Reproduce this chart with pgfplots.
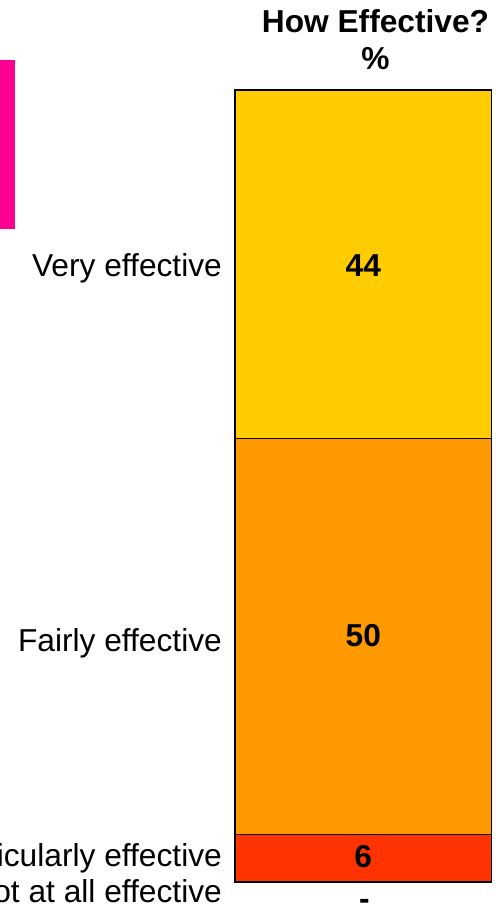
\documentclass[border=0pt]{standalone}
\usepackage{pgfplots}
\pgfplotsset{compat=1.18}
\usepackage{fontspec}
\setmainfont{Liberation Sans}
\definecolor{cVery}{HTML}{FFCC00}
\definecolor{cFair}{HTML}{FF9900}
\definecolor{cNotPart}{HTML}{FF3300}
\definecolor{cMag}{HTML}{FF0090}
\tikzset{catlab/.style={font=\fontsize{31.7}{38}\selectfont, inner sep=0pt, anchor=base east},
         vallab/.style={font=\fontsize{31.7}{38}\selectfont\bfseries, inner sep=0pt, anchor=base}}
\begin{document}
\begin{tikzpicture}
\begin{axis}[
  scale only axis, width=495pt, height=912pt,
  xmin=0, xmax=495, ymin=-3.788, ymax=111.364,
  hide axis, clip=false,
  ybar stacked, bar width=256.5,
]
\addplot[fill=cNotPart, draw=black, line width=1.6pt] coordinates {(363.25,6)};
\addplot[fill=cFair, draw=black, line width=1.6pt] coordinates {(363.25,50)};
\addplot[fill=cVery, draw=black, line width=1.6pt] coordinates {(363.25,44)};
\coordinate (bl) at (rel axis cs:0,0);
\coordinate (tr) at (rel axis cs:1,1);
\fill[cMag] (axis cs:0,82.45) rectangle (axis cs:15,103.79);
\node[catlab] at (axis cs:222,76.39) {Very effective};
\node[catlab] at (axis cs:222,29.1) {Fairly effective};
\node[catlab] at (axis cs:222,2.0) {Not particularly effective};
\node[catlab] at (axis cs:222,-2.65) {Not at all effective};
\coordinate (v44) at (axis cs:363.25,76.4);
\coordinate (v50) at (axis cs:363.25,29.7);
\coordinate (v6) at (axis cs:363.25,1.77);
\coordinate (v0) at (axis cs:364.5,-3.42);
\node[vallab] at (axis cs:375.5,107.32) {How Effective?};
\node[vallab] at (axis cs:375.5,102.59) {\%};
\end{axis}
\node[vallab] at (v44) {44};
\node[vallab] at (v50) {50};
\node[vallab] at (v6) {6};
\node[vallab] at (v0) {-};
\pgfresetboundingbox
\path[use as bounding box] (bl) rectangle (tr);
\end{tikzpicture}
\end{document}
